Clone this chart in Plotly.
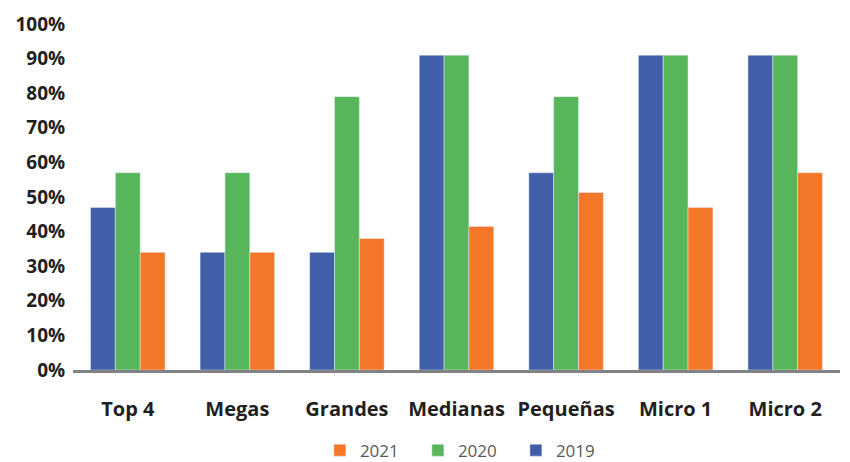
import plotly.graph_objects as go

categories = ["Top 4", "Megas", "Grandes", "Medianas", "Pequeñas", "Micro 1", "Micro 2"]
v2019 = [47, 34, 34, 91, 57, 91, 91]
v2020 = [57, 57, 79, 91, 79, 91, 91]
v2021 = [34, 34, 38, 41.5, 51.3, 47, 57]
tick_vals = [0, 10, 20, 30, 40, 50, 60, 70, 80, 90, 100]
tick_text = [f"{v}%" for v in tick_vals]

fig = go.Figure()
fig.add_bar(x=categories, y=v2019, name="2019", marker_color="#405FA8")
fig.add_bar(x=categories, y=v2020, name="2020", marker_color="#57B55A")
fig.add_bar(x=categories, y=v2021, name="2021", marker_color="#F47629")

fig.update_layout(
    width=842, height=454,
    barmode="group", bargap=0.32, bargroupgap=0,
    plot_bgcolor="white", paper_bgcolor="white",
    margin=dict(l=65, r=10, t=16, b=92),
    font=dict(family="Open Sans, sans-serif", color="#231F20"),
    legend=dict(orientation="h", xref="container", x=0.545, xanchor="center",
                yref="container", y=0.025, yanchor="middle",
                traceorder="reversed", entrywidth=53,
                font=dict(size=17, color="#58595B")),
    xaxis=dict(showline=True, linecolor="#808285", linewidth=3, automargin=False,
               ticks="outside", ticklen=19, tickcolor="rgba(0,0,0,0)",
               tickfont=dict(size=20, color="#231F20", family="Open Sans, sans-serif", weight="bold")),
    yaxis=dict(range=[0, 100], tickvals=tick_vals, ticktext=tick_text, automargin=False,
               showgrid=False, zeroline=False, showline=False,
               ticks="outside", ticklen=3, tickcolor="rgba(0,0,0,0)",
               tickfont=dict(size=19, color="#231F20", family="Open Sans, sans-serif", weight="bold")),
)
fig.write_html("out.html")
